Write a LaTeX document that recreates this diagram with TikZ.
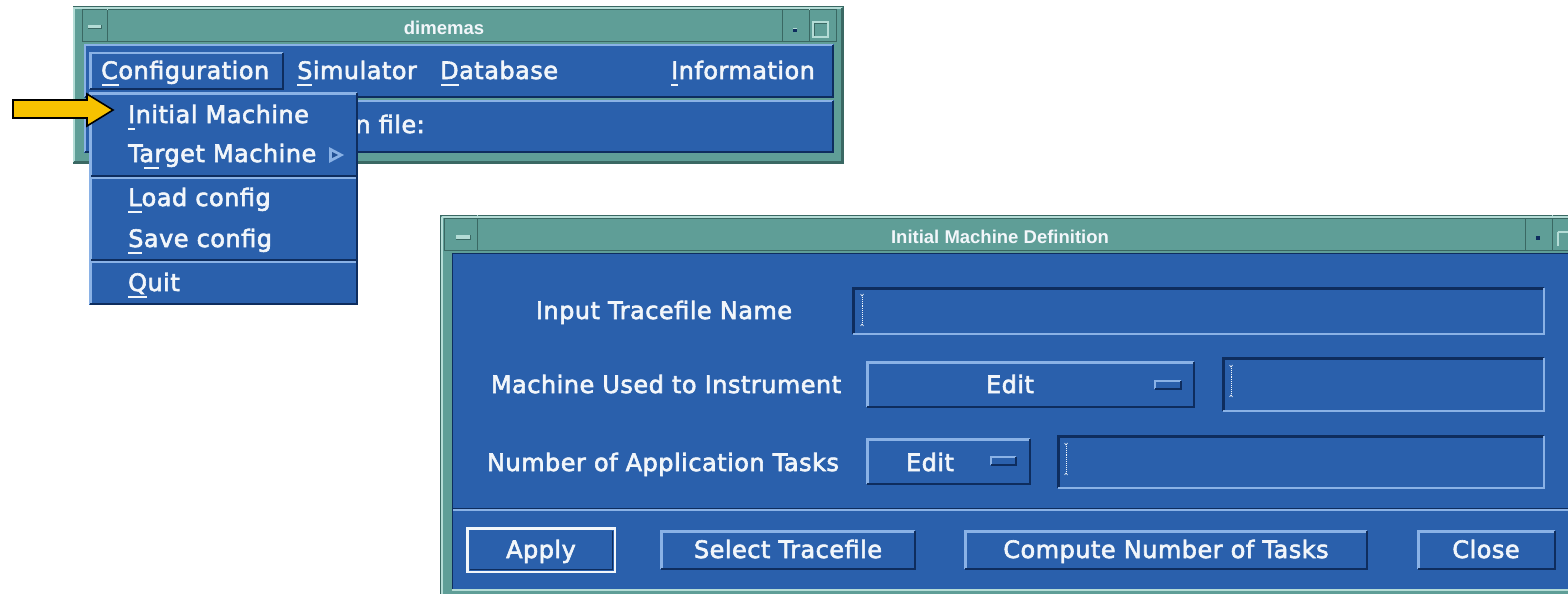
\documentclass[tikz,border=0pt]{standalone}
\usepackage{fontspec}
\setmainfont{DejaVu Sans}[LetterSpace=2,FakeBold=2.5]
\newfontfamily\wmfont{Liberation Sans}
\definecolor{uiblue}{HTML}{2A60AC}
\definecolor{uilight}{HTML}{8AB2E6}
\definecolor{uidark}{HTML}{0E2D5E}
\definecolor{tealmain}{HTML}{5F9E97}
\definecolor{teallight}{HTML}{B4DCD6}
\definecolor{tealdark}{HTML}{3A6863}
\definecolor{uitext}{HTML}{F2F6FA}
\definecolor{arrowyellow}{HTML}{F7C200}
\newcommand\uibox[6]{\node[#6, inner sep=0pt, outer sep=0pt, minimum width={#4-#2}, minimum height={#5-#3}, anchor=north west] (#1) at (#2,#3) {};}
\newcommand\bevel[4]{%
  \draw[#2, line width=#4] ([xshift=#4/2,yshift=#4/2]#1.south west) |- ([xshift=-#4/2,yshift=-#4/2]#1.north east);
  \draw[#3, line width=#4] ([xshift=#4/2,yshift=#4/2]#1.south west) -| ([xshift=-#4/2,yshift=-#4/2]#1.north east);}
\newcommand\cursor[3]{%
  \draw[uitext, densely dotted, line width=0.9pt] (#1,#2) -- (#1,#3);
  \draw[uitext, line width=0.6pt] (#1-1.5,#2-1) -- (#1,#2+1) -- (#1+1.5,#2-1);
  \draw[uitext, line width=0.6pt] (#1-1.5,#3+1) -- (#1,#3-1) -- (#1+1.5,#3+1);}

\begin{document}

\begin{tikzpicture}[x=1pt,y=-1pt,
  lbl/.style={text=uitext, font=\fontsize{24}{24}\selectfont, inner sep=0pt},
  wtitle/.style={text=uitext, font=\wmfont\bfseries\fontsize{18.5}{18.5}\selectfont, inner sep=0pt},
  frame/.style={fill=tealmain, draw=tealdark, line width=1pt},
  tbar/.style={fill=tealmain, draw=tealdark, line width=1pt},
  panel/.style={fill=uiblue},
  field/.style={fill=uiblue},
  mnem/.style={uitext, line width=1.6pt},
  arrowshape/.style={fill=arrowyellow, draw=black, line width=1.6pt, line join=miter}
]
\useasboundingbox (0,0) rectangle (1568,594);
\fill[white] (0,0) rectangle (1568,594);

% ================= dimemas window =================
\uibox{topframe}{73}{7}{843}{163}{frame}
\bevel{topframe}{teallight}{tealdark}{2pt}
\uibox{toptitle}{82}{10}{836}{42}{tbar}
\uibox{topmin}{82}{10}{107}{42}{tbar}
\fill[teallight] (88,25) rectangle (101,29);
\draw[tealdark,line width=1pt] (88,29) -- (101,29) -- (101,25);
\uibox{topicon}{782}{10}{809}{42}{tbar}
\fill[uidark] (793,28) rectangle (797,32);
\draw[teallight,line width=0.6pt] (793,28) -- (797,28);
\uibox{topmax}{809}{10}{836}{42}{tbar}
\draw[teallight,line width=1.2pt] (813,22) rectangle (828,37);
\draw[tealdark,line width=0.8pt] (814,36) -- (814,23) -- (827,23);
\draw[teallight,line width=0.8pt] (107,7) -- (107,10) (809,7) -- (809,10);
\node[wtitle, anchor=base] (toptitletext) at (444,35) {dimemas};

\uibox{menubar}{84}{44}{834}{98}{panel}
\bevel{menubar}{uilight}{uidark}{2pt}
\uibox{statusbar}{84}{100}{834}{153}{panel}
\bevel{statusbar}{uilight}{uidark}{2pt}
\uibox{cfgbtn}{89}{52}{284}{90}{panel}
\bevel{cfgbtn}{uilight}{uidark}{2.5pt}

\node[lbl, anchor=base west] (mcfg) at (101,79) {Configuration};
\node[lbl, anchor=base west] (msim) at (297,79) {Simulator};
\node[lbl, anchor=base west] (mdb) at (440,79) {Database};
\node[lbl, anchor=base west] (minfo) at (671,79) {Information};
\draw[mnem] (102,85) -- (119,85);
\draw[mnem] (297,85) -- (312,85);
\draw[mnem] (441,85) -- (459,85);
\draw[mnem] (671,85) -- (678,85);

\node[lbl, anchor=base east] (filelbl) at (425,133) {n file:};

% ================= dropdown menu =================
\uibox{menu}{89}{92}{358}{305}{panel}
\bevel{menu}{uilight}{uidark}{2.5pt}
\draw[uidark, line width=1.5pt] (91,176) -- (356,176);
\draw[uilight, line width=1.5pt] (91,178) -- (356,178);
\draw[uidark, line width=1.5pt] (91,260) -- (356,260);
\draw[uilight, line width=1.5pt] (91,262) -- (356,262);
\node[lbl, anchor=base west] (miinit) at (128,123) {Initial Machine};
\node[lbl, anchor=base west] (mitarget) at (128,162) {Target Machine};
\node[lbl, anchor=base west] (miload) at (128,206) {Load config};
\node[lbl, anchor=base west] (misave) at (128,247) {Save config};
\node[lbl, anchor=base west] (miquit) at (128,291) {Quit};
\draw[mnem] (128,129) -- (135,129);
\draw[mnem] (144,168) -- (159,168);
\draw[mnem] (128,212) -- (142,212);
\draw[mnem] (128,253) -- (142,253);
\draw[mnem] (128,297) -- (147,297);
\fill[uilight] (329,147) -- (344,155) -- (329,163) -- cycle;
\fill[uiblue!70!uidark] (332,152) -- (338,155) -- (332,158) -- cycle;

% ================= yellow arrow =================
\path[arrowshape] (13,100) -- (87,100) -- (87,94) -- (113,110) -- (87,126) -- (87,118) -- (13,118) -- cycle;
\coordinate (arrowtip) at (113,110);

% ================= Initial Machine Definition window =================
\fill[tealmain] (440,215) rectangle (1568,594);
\draw[tealdark, line width=1pt] (1568,215) -- (440,215) -- (440,594);
\draw[teallight, line width=1.5pt] (442,217) -- (1568,217);
\draw[teallight, line width=1.5pt] (442,217) -- (442,594);
\uibox{dlgtitle}{452}{218}{1568}{250}{tbar}
\uibox{dlgmin}{444}{218}{477}{250}{tbar}
\fill[teallight] (456,235) rectangle (470,239);
\draw[tealdark,line width=1pt] (456,239) -- (470,239) -- (470,235);
\uibox{dlgicon}{1525}{218}{1552}{250}{tbar}
\fill[uidark] (1536,236) rectangle (1540,240);
\draw[teallight,line width=1.2pt] (1558,232) -- (1568,232) (1558,232) -- (1558,246);
\draw[teallight,line width=0.8pt] (477,215) -- (477,218) (1552,215) -- (1552,218);
\node[wtitle, anchor=base] (dlgtitletext) at (1000,243) {Initial Machine Definition};

\fill[uiblue] (452,253) rectangle (1568,589);
\draw[uidark, line width=1pt] (452,253) -- (1568,253);
\draw[uidark, line width=1pt] (452,253) -- (452,589);
\draw[teallight, line width=1.5pt] (452,590) -- (1568,590);

% row 1
\node[lbl, anchor=base] (lblin) at (664,319) {Input Tracefile Name};
\uibox{fieldin}{852}{287}{1545}{335}{field}
\bevel{fieldin}{uidark}{uilight}{2.5pt}
\cursor{862}{295}{325}

% row 2
\node[lbl, anchor=base] (lblmach) at (666,393) {Machine Used to Instrument};
\uibox{editmach}{866}{361}{1195}{408}{panel}
\bevel{editmach}{uilight}{uidark}{2.5pt}
\node[lbl, anchor=base] (editmachtxt) at (1010,393) {Edit};
\uibox{indmach}{1154}{380}{1182}{390}{panel}
\bevel{indmach}{uilight}{uidark}{2pt}
\uibox{fieldmach}{1222}{357}{1545}{412}{field}
\bevel{fieldmach}{uidark}{uilight}{2.5pt}
\cursor{1231}{366}{396}

% row 3
\node[lbl, anchor=base] (lbltasks) at (663,471) {Number of Application Tasks};
\uibox{edittasks}{866}{438}{1031}{485}{panel}
\bevel{edittasks}{uilight}{uidark}{2.5pt}
\node[lbl, anchor=base] (edittaskstxt) at (930,471) {Edit};
\uibox{indtasks}{990}{456}{1017}{466}{panel}
\bevel{indtasks}{uilight}{uidark}{2pt}
\uibox{fieldtasks}{1057}{435}{1545}{489}{field}
\bevel{fieldtasks}{uidark}{uilight}{2.5pt}
\cursor{1066}{444}{474}

% separator
\draw[uidark, line width=1pt] (453,508) -- (1568,508);
\draw[uilight, line width=1.5pt] (453,510) -- (1568,510);

% buttons
\uibox{applybtn}{466}{527}{616}{573}{panel}
\draw[uitext, line width=2.5pt] ([shift={(1.25pt,-1.25pt)}]applybtn.north west) rectangle ([shift={(-1.25pt,1.25pt)}]applybtn.south east);
\draw[uidark, line width=1.5pt] ([shift={(3.5pt,3.5pt)}]applybtn.south west) -| ([shift={(-3.5pt,-3.5pt)}]applybtn.north east);
\node[lbl, anchor=base] (applytxt) at (541,558) {Apply};
\uibox{selbtn}{660}{530}{916}{570}{panel}
\bevel{selbtn}{uilight}{uidark}{2.5pt}
\node[lbl, anchor=base] (seltxt) at (788,558) {Select Tracefile};
\uibox{compbtn}{964}{530}{1368}{570}{panel}
\bevel{compbtn}{uilight}{uidark}{2.5pt}
\node[lbl, anchor=base] (comptxt) at (1166,558) {Compute Number of Tasks};
\uibox{closebtn}{1417}{530}{1556}{570}{panel}
\bevel{closebtn}{uilight}{uidark}{2.5pt}
\node[lbl, anchor=base] (closetxt) at (1486,558) {Close};
\end{tikzpicture}

\end{document}
